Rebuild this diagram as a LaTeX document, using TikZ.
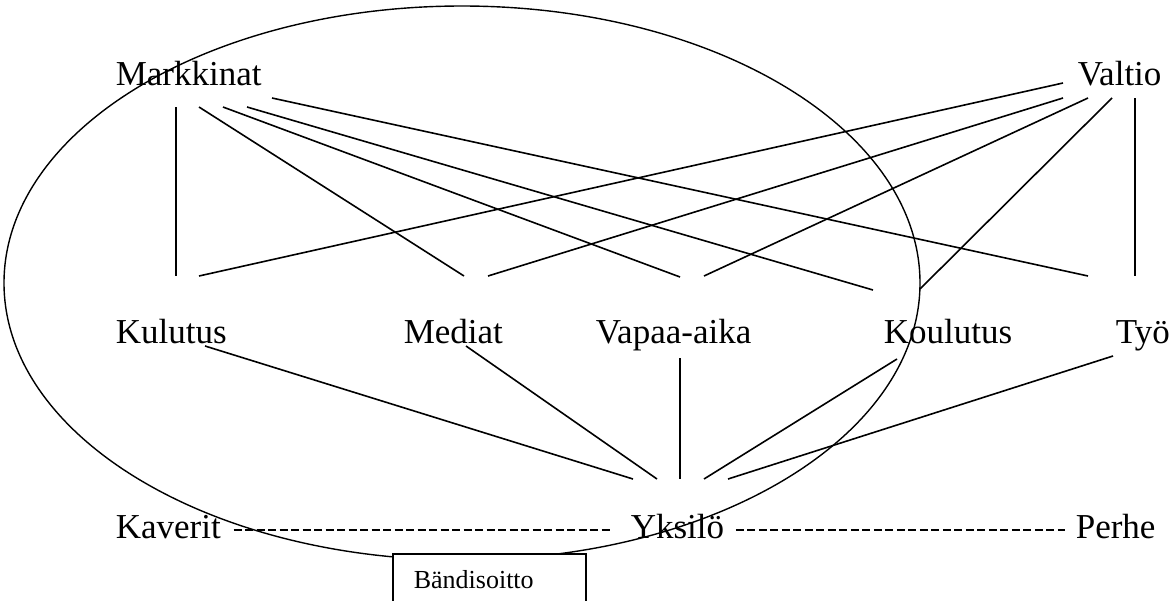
\documentclass[tikz,border=0pt]{standalone}
\usepackage{fontspec}
\setmainfont{Liberation Serif}
\usetikzlibrary{positioning}

\begin{document}
\begin{tikzpicture}[x=1pt,y=-1pt,line width=1.6pt,
  lbl/.style={anchor=base west,inner sep=0pt,font=\fontsize{35}{40}\selectfont},
  box/.style={draw,fill=white,anchor=north west,minimum width=193pt,text width=151pt,
    align=left,inner xsep=21pt,inner ysep=12pt,text height=23pt,text depth=10pt,
    font=\fontsize{26}{30}\selectfont},
  dots/.style={dash pattern=on 8pt off 3.5pt}]
   \useasboundingbox (0,0) rectangle (1172,600);
   \draw[line width=1.4pt] (462,283) ellipse [x radius=458pt, y radius=277pt];
   \node[lbl] (markkinat) at (115,85)  {Markkinat};
   \node[lbl] (valtio)    at (1077,85) {Valtio};
   \node[lbl] (kulutus)   at (115,343) {Kulutus};
   \node[lbl] (mediat)    at (403,343) {Mediat};
   \node[lbl] (vapaa)     at (595,343) {Vapaa-aika};
   \node[lbl] (koulutus)  at (883,343) {Koulutus};
   \node[lbl] (tyo)       at (1115,343) {Työ};
   \node[lbl] (kaverit)   at (115,538) {Kaverit};
   \node[lbl] (yksilo)    at (630,538) {Yksilö};
   \node[lbl] (perhe)     at (1075,538) {Perhe};
   \node[box] (bandi)     at (392,553) {Bändisoitto};
    \path
([shift={(61,22)}]markkinat.base west) edge ([shift={(61,-67)}]kulutus.base west)
([shift={(84,22)}]markkinat.base west) edge ([shift={(61,-67)}]mediat.base west)
([shift={(108,22)}]markkinat.base west) edge ([shift={(85,-66)}]vapaa.base west)
([shift={(132,22)}]markkinat.base west) edge ([shift={(-10,-53)}]koulutus.base west)
([shift={(157,13)}]markkinat.base west) edge ([shift={(-27,-67)}]tyo.base west)
([shift={(-14,-2)}]valtio.base west) edge ([shift={(84,-67)}]kulutus.base west)
([shift={(-14,13)}]valtio.base west) edge ([shift={(85,-67)}]mediat.base west)
([shift={(11,13)}]valtio.base west) edge ([shift={(109,-67)}]vapaa.base west)
([shift={(35,13)}]valtio.base west) edge ([shift={(37,-54)}]koulutus.base west)
([shift={(58,13)}]valtio.base west) edge ([shift={(20,-67)}]tyo.base west)
([shift={(90,3)}]kulutus.base west) edge ([shift={(3,-59)}]yksilo.base west)
([shift={(63,3)}]mediat.base west) edge ([shift={(27,-59)}]yksilo.base west)
([shift={(85,15)}]vapaa.base west) edge ([shift={(50,-59)}]yksilo.base west)
([shift={(14,16)}]koulutus.base west) edge ([shift={(74,-59)}]yksilo.base west)
([shift={(-2,13)}]tyo.base west) edge ([shift={(98,-59)}]yksilo.base west);
    \path[dots]
([shift={(12,-8)}]kaverit.base east) edge ([shift={(-20,-8)}]yksilo.base west)
([shift={(11,-8)}]yksilo.base east) edge ([shift={(-10,-8)}]perhe.base west);
\end{tikzpicture}
\end{document}
